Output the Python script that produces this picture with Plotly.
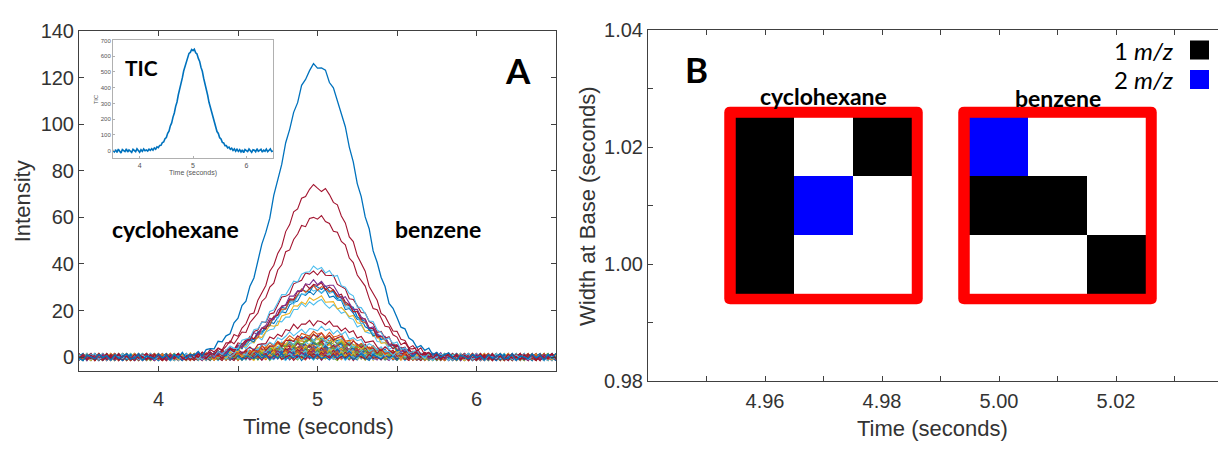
import plotly.graph_objects as go

W, H = 1218, 452

# ---------------- Panel A data ----------------
# sampling grid of the chromatogram (seconds)
TIME = [round(3.5 + 0.025 * k, 3) for k in range(121)]

# normalised peak profile
PROFILE = [
    0, 0, 0, 0, 0, 0, 0, 0, 0, 0, 0, 0, 0, 0, 0, 0, 0, 0, 0, 0, 0, 0, 0, 0, 0,
    0.002, 0.003, 0.004, 0.006, 0.008, 0.011, 0.015, 0.021, 0.027, 0.035,
    0.045, 0.057, 0.072, 0.090, 0.111, 0.136, 0.166, 0.199, 0.238, 0.280,
    0.327, 0.377, 0.432, 0.489, 0.548, 0.608, 0.668, 0.727, 0.784, 0.836,
    0.884, 0.925, 0.958, 0.982, 0.996, 1.000, 0.994, 0.979, 0.954, 0.921,
    0.880, 0.833, 0.781, 0.724, 0.665, 0.605, 0.544, 0.485, 0.428, 0.373,
    0.323, 0.276, 0.234, 0.196, 0.163, 0.134, 0.109, 0.088, 0.070, 0.055,
    0.043, 0.033, 0.026, 0.020, 0.015, 0.011, 0.008, 0.006, 0.004, 0.003, 0.002,
    0, 0, 0, 0, 0, 0, 0, 0, 0, 0, 0, 0, 0, 0, 0, 0, 0, 0, 0, 0, 0, 0, 0, 0, 0,
]

# baseline noise (intensity units)
NOISE = [0.6, -0.9, 0.3, 1.2, -0.4, -1.3, 0.8, 0.1, -0.7, 1.0, -0.2, 0.5, -1.1,
         0.9, -0.5, 0.2, 1.3, -0.8, -0.1, 0.7, -1.2, 0.4, 0.0, -0.6, 1.1, -0.3,
         0.6, -1.0, 0.8, -0.4, 1.4, -0.9, 0.3, -0.2, 0.9, -1.3, 0.5, 0.2, -0.7,
         1.0, -0.5, 0.1, -1.1, 0.7, -0.3, 1.2, -0.8]

# peak heights of the individual m/z traces
BIG_AMPS = [125, 73, 60, 38, 36.5, 32, 31, 30, 30, 29, 28, 25, 23.5, 15, 12,
            10, 9, 8.5, 8, 7]
BIG_COLORS = ["#0072BD", "#A2142F", "#A2142F", "#4DBEEE", "#A2142F", "#7E2F8E",
              "#A2142F", "#D95319", "#0072BD", "#4DBEEE", "#0072BD", "#EDB120",
              "#4DBEEE", "#A2142F", "#4DBEEE", "#D95319", "#A2142F", "#EDB120",
              "#4DBEEE", "#77AC30"]
SMALL_AMPS = [8.2, 7.5, 7.0, 6.6, 6.1, 5.8, 5.5, 5.2, 5.0, 4.7, 4.5, 4.3, 4.1,
              3.9, 3.7, 3.5, 3.3, 3.2, 3.0, 2.9, 2.7, 2.6, 2.5, 2.3, 2.2, 2.1,
              2.0, 1.9, 1.8, 1.7, 1.6, 1.5, 1.4, 1.3, 1.2, 1.1, 1.0, 0.9, 0.8,
              0.7, 0.6, 0.5, 0.4, 0.3, 0.2, 0.1, 0.0, 0.0, 0.0, 0.0]
PALETTE = ["#0072BD", "#D95319", "#EDB120", "#7E2F8E", "#77AC30", "#4DBEEE", "#A2142F"]

# total ion chromatogram (inset)
TIC = [
    3, -8, 5, -12, 9, -4, -15, 7, 2, -6, 11, -9, 4, -3, -11, 8, 1, -7, 12, -2, -10, 6, -5, 10, -1,
    4, -3, 9, 1, 12, 3, 17, 9, 24, 19,
    33, 34, 51, 55, 75, 83, 110, 124, 157, 176,
    213, 239, 281, 309, 355, 386, 432, 462, 506, 532,
    570, 589, 618, 624, 643, 636, 645, 622, 614, 586,
    567, 529, 504, 460, 429, 384, 352, 307, 278, 236,
    211, 174, 153, 121, 109, 82, 74, 52, 49, 31,
    32, 17, 22, 8, 15, 1, 11, -4, 9, -5, 6,
    -9, 4, -13, 7, 0, -6, 10, -3, -11, 5, 2, -8, 12, -5, -1, 8, -10, 3, -4, 9, -7, 1, 11, -6, -2,
]

# ---------------- Panel B data ----------------
CYC_TIME = [4.96, 4.97, 4.98]
BENZ_TIME = [5.00, 5.01, 5.02]
WIDTHS = [1.00, 1.01, 1.02]
# 0 = none, 1 = 1 m/z, 2 = 2 m/z   (rows follow WIDTHS)
CYC_Z = [[1, 0, 0],
         [1, 2, 0],
         [1, 0, 1]]
BENZ_Z = [[0, 0, 1],
          [1, 1, 0],
          [2, 0, 0]]

# ---------------- helpers ----------------
def px(x):
    return x / W

def py(y):
    return 1 - y / H

AX = "#404040"
TXT = "#333333"
FONT = "Arial, Liberation Sans, sans-serif"
BOLD = "Lato, Open Sans, sans-serif"

fig = go.Figure()

# ---- Panel A traces ----
traces = []
for i, a in enumerate(SMALL_AMPS):
    traces.append((a, PALETTE[i % len(PALETTE)]))
for a, c in reversed(list(zip(BIG_AMPS, BIG_COLORS))):
    traces.append((a, c))

for i, (amp, col) in enumerate(traces):
    yv = [amp * PROFILE[k] + 1.15 * NOISE[(k + 13 * i) % len(NOISE)] for k in range(len(TIME))]
    fig.add_trace(go.Scatter(x=TIME, y=yv, mode="lines",
                             line=dict(color=col, width=1.1 if amp < 100 else 1.3),
                             xaxis="x", yaxis="y", showlegend=False, hoverinfo="skip"))

# ---- inset TIC ----
fig.add_trace(go.Scatter(x=TIME, y=TIC, mode="lines", line=dict(color="#0072BD", width=1.6),
                         xaxis="x3", yaxis="y3", showlegend=False, hoverinfo="skip"))

# ---- Panel B heatmaps ----
CS = [[0, "#ffffff"], [0.333, "#ffffff"], [0.333, "#000000"], [0.667, "#000000"],
      [0.667, "#0000ff"], [1, "#0000ff"]]
for xs, z in ((CYC_TIME, CYC_Z), (BENZ_TIME, BENZ_Z)):
    fig.add_trace(go.Heatmap(x=xs, y=WIDTHS, z=z, zmin=0, zmax=2, colorscale=CS,
                             showscale=False, xaxis="x2", yaxis="y2", hoverinfo="skip"))

# axes geometry
A_X0, A_X1, A_Y0, A_Y1 = 79, 556, 21, 378
B_X0, B_Y0, B_Y1 = 648, 20, 389
B_XR = [4.94, 4.94 + (W - B_X0) / 5850.0]
B_YR = [0.98, 1.04]

common = dict(showgrid=False, zeroline=False, showline=True, linecolor=AX, linewidth=1,
              ticks="inside", tickcolor=AX, ticklen=5, tickfont=dict(family=FONT, size=20, color=TXT))

fig.update_layout(
    width=W, height=H, margin=dict(l=0, r=0, t=0, b=0),
    paper_bgcolor="white", plot_bgcolor="white",
    xaxis=dict(domain=[px(A_X0), px(A_X1)], range=[3.5, 6.5], anchor="y",
               tickvals=[4, 4.5, 5, 5.5, 6], ticktext=["4", "", "5", "", "6"],
               mirror="ticks", ticklabelstandoff=10, **common),
    yaxis=dict(domain=[py(A_Y1), py(A_Y0)], range=[-5.8, 140], anchor="x",
               tickvals=[0, 20, 40, 60, 80, 100, 120, 140], mirror="ticks", **common),
    xaxis2=dict(domain=[px(B_X0), 1], range=B_XR, anchor="y2",
                tickvals=[4.95, 4.96, 4.97, 4.98, 4.99, 5.00, 5.01, 5.02, 5.03],
                ticktext=["", "4.96", "", "4.98", "", "5.00", "", "5.02", ""],
                mirror="ticks", ticklabelstandoff=2, **common),
    yaxis2=dict(domain=[py(B_Y1), py(B_Y0)], range=B_YR, anchor="x2",
                tickvals=[0.98, 0.99, 1.00, 1.01, 1.02, 1.03, 1.04],
                ticktext=["0.98", "", "1.00", "", "1.02", "", "1.04"],
                mirror=False, **common),
    xaxis3=dict(domain=[px(113), px(273)], range=[3.5, 6.5], anchor="y3",
                tickvals=[4, 5, 6], showgrid=False, zeroline=False, showline=True,
                linecolor="#b0b0b0", mirror=True, ticks="inside", ticklen=2, tickcolor="#b0b0b0",
                tickfont=dict(family=FONT, size=7, color="#555"),
                title=dict(text="Time (seconds)", font=dict(family=FONT, size=7, color="#555"), standoff=2)),
    yaxis3=dict(domain=[py(155), py(31)], range=[-50, 700], anchor="x3",
                tickvals=[0, 100, 200, 300, 400, 500, 600, 700], showgrid=False, zeroline=False,
                showline=True, linecolor="#b0b0b0", mirror=True, ticks="inside", ticklen=2,
                tickcolor="#b0b0b0", tickfont=dict(family=FONT, size=6, color="#555"),
                title=dict(text="TIC", font=dict(family=FONT, size=6, color="#555"), standoff=1)),
)

# red rounded frames behind the grids
ppx = (W - B_X0) / (B_XR[1] - B_XR[0])
ppy = (B_Y1 - B_Y0) / (B_YR[1] - B_YR[0])
shapes = []
for xs in (CYC_TIME, BENZ_TIME):
    hx = (xs[1] - xs[0]) / 2
    hy = (WIDTHS[1] - WIDTHS[0]) / 2
    pad_x, pad_y = 11.5 / ppx, 11.5 / ppy
    x0, x1 = xs[0] - hx - pad_x, xs[-1] + hx + pad_x
    y0, y1 = WIDTHS[0] - hy - pad_y, WIDTHS[-1] + hy + pad_y
    rx, ry = 6 / ppx, 6 / ppy
    path = (f"M {x0+rx},{y0} L {x1-rx},{y0} Q {x1},{y0} {x1},{y0+ry} "
            f"L {x1},{y1-ry} Q {x1},{y1} {x1-rx},{y1} L {x0+rx},{y1} "
            f"Q {x0},{y1} {x0},{y1-ry} L {x0},{y0+ry} Q {x0},{y0} {x0+rx},{y0} Z")
    shapes.append(dict(type="path", path=path, xref="x2", yref="y2", fillcolor="#ff0000",
                       line=dict(width=0), layer="below"))

# legend squares (panel B)
for (yt, yb), col in (((31, 51), "#000000"), ((62, 82), "#0000ff")):
    shapes.append(dict(type="rect", xref="paper", yref="paper", x0=px(1190), x1=px(1209),
                       y0=py(yb), y1=py(yt), fillcolor=col, line=dict(width=0)))
fig.update_layout(shapes=shapes)

ann = []
def label(text, x, y, size, family=BOLD, color="black", xanchor="center", angle=0, xref="paper"):
    ann.append(dict(text=text, x=x, y=y, xref=xref, yref="paper", showarrow=False,
                    xanchor=xanchor, yanchor="middle", textangle=angle,
                    font=dict(family=family, size=size, color=color)))

label("<b>A</b>", px(518), py(62), 35)
label("<b>B</b>", px(696), py(61), 35)
label("<b>cyclohexane</b>", px(175), py(229), 23)
label("<b>benzene</b>", px(438), py(229), 23)
label("<b>TIC</b>", px(141), py(59), 21)
label("<b>cyclohexane</b>", sum(CYC_TIME) / 3, py(89), 23, xref="x2")
label("<b>benzene</b>", sum(BENZ_TIME) / 3, py(91), 23, xref="x2")
label("1 <i>m/z</i>", px(1176), py(41), 24, family="Lato, sans-serif", xanchor="right")
label("2 <i>m/z</i>", px(1176), py(72), 24, family="Lato, sans-serif", xanchor="right")
label("Intensity", px(22), py(200), 22, family=FONT, color=TXT, angle=-90)
label("Time (seconds)", px(318), py(437), 22, family=FONT, color=TXT)
label("Width at Base (seconds)", px(587), py(205), 22, family=FONT, color=TXT, angle=-90)
label("Time (seconds)", px(932), py(439), 22, family=FONT, color=TXT)
fig.update_layout(annotations=ann)

fig.write_html("out.html")
